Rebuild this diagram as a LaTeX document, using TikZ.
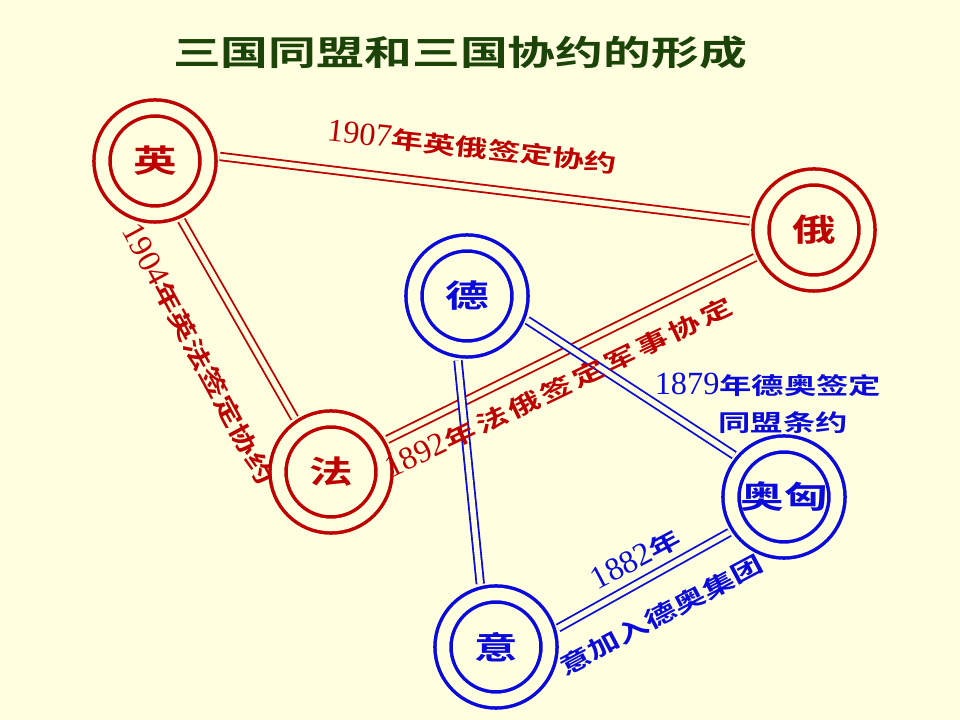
\documentclass[tikz,border=0pt]{standalone}
\usepackage{fontspec}
\usepackage{graphicx}
\usepackage{tikz}
\usetikzlibrary{positioning}
\newfontfamily\cjkb{Noto Sans CJK SC Bold}
\newfontfamily\numf{Liberation Serif}
\newcommand\widechar[1]{\scalebox{1}[0.72]{#1}}
\definecolor{bgyellow}{RGB}{255,255,224}
\definecolor{redc}{RGB}{190,0,0}
\definecolor{bluec}{RGB}{10,10,220}
\definecolor{titlegreen}{RGB}{28,68,8}

\begin{document}
\begin{tikzpicture}[x=0.025cm,y=0.025cm,
  land/.style={circle,draw,double=bgyellow,line width=2.5pt,double distance=8.9pt,
    minimum size=2.65cm,inner sep=0pt,outer sep=0.3cm,font=\cjkb\fontsize{31}{31}\selectfont},
  link/.style={double=bgyellow,line width=1.3pt,double distance=4pt},
  note/.style={inner sep=0pt,font=\cjkb\fontsize{23}{23}\selectfont}]
  \fill[bgyellow] (0,0) rectangle (960,720);
  \useasboundingbox (0,0) rectangle (960,720);
  \node[font=\cjkb\fontsize{34}{34}\selectfont,titlegreen] (title) at (460,668) {\widechar{三国同盟和三国协约的形成}};
  \foreach \n/\x/\y/\c/\t in {britain/155/559/redc/英,russia/814/490/redc/俄,france/331/248/redc/法,
      germany/467/424/bluec/德,austria/784/223/bluec/奥匈,italy/496/73/bluec/意}
    \node[land,\c] (\n) at (\x,\y) {\widechar{\t}};
  \foreach \a/\b/\c in {britain.4/russia.172/redc,britain.294/france.124/redc,france.30/russia.205/redc,
      germany.338/austria.140/bluec,germany.262/italy.104/bluec,italy.17/austria.213/bluec}
    \draw[link,\c] (\a) -- (\b);
  \node[note,redc,rotate=-6.3] (l1907) at (472,573) {{\numf 1907}\widechar{年英俄签定协约}};
  \node[note,redc,rotate=-61.6] (l1904) at (199,366) {{\numf 1904}\widechar{年英法签定协约}};
  \node[note,redc,rotate=25.7] (l1892) at (559,333) {{\numf 1892}{\addfontfeature{LetterSpace=10}\widechar{年法俄签定军事协定}}};
  \node[note,bluec] (l1879a) at (768,335) {{\numf 1879}\widechar{年德奥签定}};
  \node[note,bluec] (l1879b) at (783,297) {\widechar{同盟条约}};
  \node[note,bluec,rotate=28] (l1882) at (636,161) {{\numf 1882}\widechar{年}};
  \node[note,bluec,rotate=28] (ljoin) at (661,105) {\widechar{意加入德奥集团}};
\end{tikzpicture}
\end{document}
